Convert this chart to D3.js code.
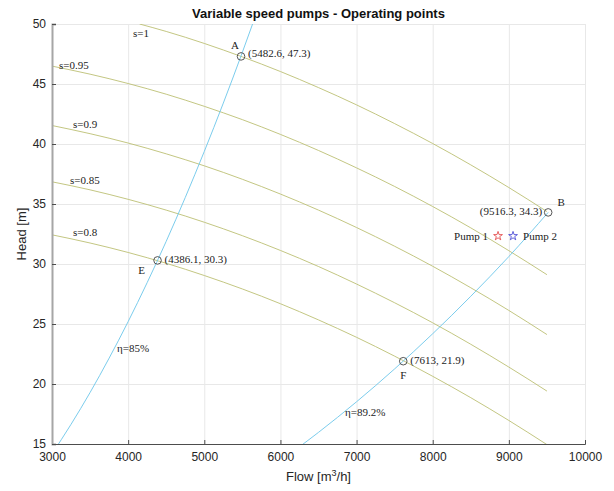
<!DOCTYPE html>
<html>
<head>
<meta charset="utf-8">
<title>Variable speed pumps - Operating points</title>
<script src="https://d3js.org/d3.v7.min.js"></script>
<style>
  body { margin: 0; background: #fff; }
  svg text { font-family: "Liberation Sans", Arial, sans-serif; }
  .lbl { font-family: "Liberation Serif", "Times New Roman", serif; font-size: 11px; fill: #222; }
</style>
</head>
<body>
<div id="chart"></div>
<script>
// flow values (m3/h) shared by the pump curves
var flows = [3000, 3500, 4000, 4500, 5000, 5500, 6000, 6500, 7000, 7500, 8000, 8500, 9000, 9500];

// pump curves, head (m) at each flow, one array per relative speed
var headS100 = [null, null, null, 49.38, 48.38, 47.26, 46.04, 44.70, 43.26, 41.70, 40.04, 38.26, 36.37, 34.37];
var headS095 = [46.49, 45.82, 45.04, 44.15, 43.14, 42.03, 40.80, 39.46, 38.01, 36.46, 34.79, 33.01, 31.11, 29.11];
var headS090 = [41.54, 40.86, 40.08, 39.18, 38.18, 37.06, 35.83, 34.49, 33.04, 31.48, 29.81, 28.02, 26.13, 24.12];
var headS085 = [36.85, 36.18, 35.39, 34.49, 33.48, 32.36, 31.13, 29.79, 28.33, 26.77, 25.10, 23.31, 21.41, 19.41];
var headS080 = [32.43, 31.75, 30.96, 30.06, 29.04, 27.92, 26.69, 25.34, 23.89, 22.32, 20.64, 18.86, 16.96, 14.95];
var speedNames = ["s=1", "s=0.95", "s=0.9", "s=0.85", "s=0.8"];
// where each speed label sits [flow, head]
var speedLabelPos = [[4064, 49.25], [3092, 46.6], [3276, 41.67], [3236, 37.0], [3276, 32.67]];
// start of s=1 curve at the top edge
var s100Start = [4150, 50.0];

// iso-efficiency curves
var eta85Flow = [3000, 3250, 3500, 3750, 4000, 4250, 4500, 4750, 5000, 5250, 5500, 5750];
var eta85Head = [14.18, 16.64, 19.29, 22.15, 25.20, 28.45, 31.89, 35.54, 39.38, 43.41, 47.64, 52.07];
var eta892Flow = [6200, 6500, 7000, 7500, 8000, 8500, 9000, 9516.3];
var eta892Head = [14.53, 15.97, 18.52, 21.26, 24.19, 27.31, 30.62, 34.3];
var etaNames = ["\u03b7=85%", "\u03b7=89.2%"];
var etaLabelPos = [[3854, 23.0], [6848, 17.67]];

// operating points
var opNames = ["A", "B", "E", "F"];
var opFlow = [5482.6, 9516.3, 4386.1, 7613];
var opHead = [47.3, 34.3, 30.3, 21.9];

// pump markers
var pumpNames = ["Pump 1", "Pump 2"];
var pumpFlow = [8858, 9055];
var pumpHead = [32.33, 32.33];
var pumpColors = ["#e03a3a", "#3a3ad0"];

var xTicks = [3000, 4000, 5000, 6000, 7000, 8000, 9000, 10000];
var yTicks = [15, 20, 25, 30, 35, 40, 45, 50];

var margin = {top: 24, right: 29, bottom: 47, left: 52},
    width = 614 - margin.left - margin.right,
    height = 491 - margin.top - margin.bottom;

var svg = d3.select("#chart").append("svg")
    .attr("width", 614).attr("height", 491);
var g = svg.append("g")
    .attr("transform", "translate(" + margin.left + "," + margin.top + ")");

var x = d3.scaleLinear().domain([3000, 10000]).range([0, width]);
var y = d3.scaleLinear().domain([15, 50]).range([height, 0]);

// grid
g.append("g").attr("class", "grid")
  .attr("transform", "translate(0," + height + ")")
  .call(d3.axisBottom(x).tickValues(xTicks).tickSize(-height).tickFormat(""))
  .call(s => s.select(".domain").remove())
  .selectAll("line").attr("stroke", "#e8e8e8");
g.append("g").attr("class", "grid")
  .call(d3.axisLeft(y).tickValues(yTicks).tickSize(-width).tickFormat(""))
  .call(s => s.select(".domain").remove())
  .selectAll("line").attr("stroke", "#e8e8e8");

svg.append("defs").append("clipPath").attr("id", "plotclip")
  .append("rect").attr("width", width).attr("height", height);

var plot = g.append("g").attr("clip-path", "url(#plotclip)");

var line = d3.line()
  .x(d => x(d[0])).y(d => y(d[1]))
  .curve(d3.curveMonotoneX);

// pump curves
var pumpCurves = [headS100, headS095, headS090, headS085, headS080].map(function(h, i) {
  var pts = flows.map((f, j) => [f, h[j]]).filter(p => p[1] != null);
  if (i === 0) pts = [s100Start].concat(pts);
  return pts;
});
pumpCurves.forEach(function(pts) {
  plot.append("path").datum(pts)
    .attr("fill", "none").attr("stroke", "#bcbf74").attr("stroke-width", 0.9)
    .attr("d", line);
});

// iso-efficiency curves
[[eta85Flow, eta85Head], [eta892Flow, eta892Head]].forEach(function(c) {
  plot.append("path").datum(c[0].map((f, j) => [f, c[1][j]]))
    .attr("fill", "none").attr("stroke", "#6cc6ea").attr("stroke-width", 0.9)
    .attr("d", line);
});

// speed labels
speedNames.forEach(function(t, i) {
  g.append("text").attr("class", "lbl")
    .attr("x", x(speedLabelPos[i][0])).attr("y", y(speedLabelPos[i][1]))
    .attr("dy", "0.35em").text(t);
});
etaNames.forEach(function(t, i) {
  g.append("text").attr("class", "lbl")
    .attr("x", x(etaLabelPos[i][0])).attr("y", y(etaLabelPos[i][1]))
    .attr("dy", "0.35em").text(t);
});

// operating points
var opLetterOffset = [[-6, -11], [13, -10], [-16, 10], [0, 14]];
opNames.forEach(function(n, i) {
  var px = x(opFlow[i]), py = y(opHead[i]);
  g.append("circle").attr("cx", px).attr("cy", py).attr("r", 3.8)
    .attr("fill", "none").attr("stroke", "#444").attr("stroke-width", 0.9);
  g.append("text").attr("class", "lbl")
    .attr("x", px + opLetterOffset[i][0]).attr("y", py + opLetterOffset[i][1])
    .attr("dy", "0.35em").attr("text-anchor", "middle").text(n);
  var coord = "(" + opFlow[i] + ", " + opHead[i] + ")";
  var right = (n !== "B");
  g.append("text").attr("class", "lbl")
    .attr("x", right ? px + 7 : px - 6).attr("y", py - (n === "A" ? 3 : 1))
    .attr("dy", "0.35em").attr("text-anchor", right ? "start" : "end")
    .text(coord);
});

// pump star markers
var star = d3.symbol().type(d3.symbolStar).size(24);
pumpNames.forEach(function(n, i) {
  var px = x(pumpFlow[i]), py = y(pumpHead[i]);
  g.append("path").attr("d", star)
    .attr("transform", "translate(" + px + "," + py + ")")
    .attr("fill", "none").attr("stroke", pumpColors[i]).attr("stroke-width", 0.8);
  g.append("text").attr("class", "lbl")
    .attr("x", i === 0 ? px - 10 : px + 10).attr("y", py)
    .attr("dy", "0.35em").attr("text-anchor", i === 0 ? "end" : "start")
    .text(n);
});

// axes
var xAxis = g.append("g")
  .attr("transform", "translate(0," + height + ")")
  .call(d3.axisBottom(x).tickValues(xTicks).tickSize(-4).tickPadding(8).tickFormat(d3.format("d")));
xAxis.select(".domain").attr("stroke", "#4d4d4d");
xAxis.selectAll("line").attr("stroke", "#4d4d4d");
xAxis.selectAll("text").attr("font-size", 12).attr("fill", "#262626")
  .attr("font-family", "Liberation Sans, Arial, sans-serif");

var yAxis = g.append("g")
  .call(d3.axisLeft(y).tickValues(yTicks).tickSize(-4).tickPadding(6));
yAxis.select(".domain").attr("stroke", "#a6a6a6").attr("stroke-width", 2);
yAxis.selectAll("line").attr("stroke", "#4d4d4d");
yAxis.selectAll("text").attr("font-size", 12).attr("fill", "#262626")
  .attr("font-family", "Liberation Sans, Arial, sans-serif");

// title and axis labels
svg.append("text")
  .attr("x", margin.left + width / 2).attr("y", 18)
  .attr("text-anchor", "middle").attr("font-size", 13).attr("font-weight", "bold")
  .attr("fill", "#111")
  .text("Variable speed pumps - Operating points");

var xl = svg.append("text")
  .attr("x", margin.left + width / 2).attr("y", 481)
  .attr("text-anchor", "middle").attr("font-size", 13).attr("fill", "#262626");
xl.append("tspan").text("Flow [m");
xl.append("tspan").attr("dy", -5).attr("font-size", 9).text("3");
xl.append("tspan").attr("dy", 5).text("/h]");

svg.append("text")
  .attr("transform", "translate(26," + (margin.top + height / 2) + ") rotate(-90)")
  .attr("text-anchor", "middle").attr("font-size", 13).attr("fill", "#262626")
  .text("Head [m]");
</script>
</body>
</html>
